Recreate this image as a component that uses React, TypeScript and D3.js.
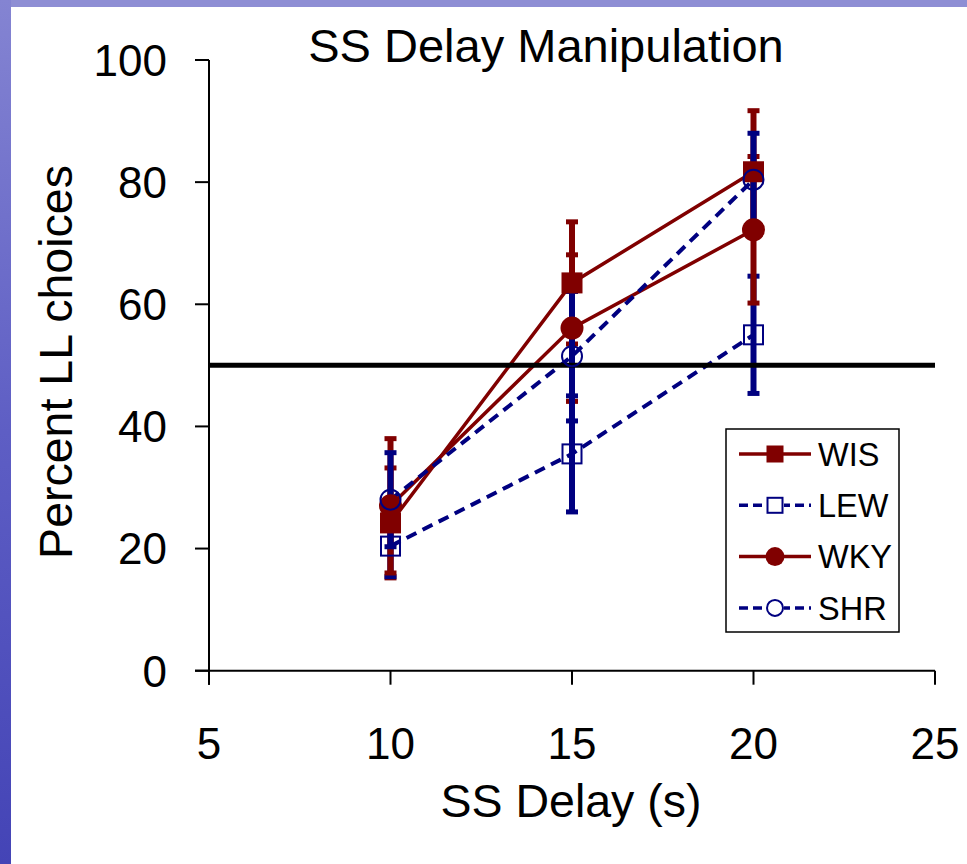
import React from "react";
import * as d3 from "d3";

const delays = [10, 15, 20];
const xTicks = [5, 10, 15, 20, 25];
const yTicks = [0, 20, 40, 60, 80, 100];
const seriesNames = ["WIS", "LEW", "WKY", "SHR"];
const wisMean = [24.2, 63.5, 81.7];
const wisErr = [9, 10, 10];
const lewMean = [20.4, 35.5, 55.0];
const lewErr = [5, 9.5, 9.6];
const wkyMean = [27.0, 56.1, 72.2];
const wkyErr = [11, 12, 12];
const shrMean = [28.0, 51.5, 80.4];
const shrErr = [7.7, 10.6, 7.6];
const refLine = 50;

const RED = "#800000";
const NAVY = "#000080";
const FONT = "'Liberation Sans', Arial, sans-serif";

type S = { name: string; mean: number[]; err: number[]; color: string; dashed: boolean; marker: string };
const series: S[] = [
  { name: seriesNames[0], mean: wisMean, err: wisErr, color: RED, dashed: false, marker: "fsquare" },
  { name: seriesNames[1], mean: lewMean, err: lewErr, color: NAVY, dashed: true, marker: "osquare" },
  { name: seriesNames[2], mean: wkyMean, err: wkyErr, color: RED, dashed: false, marker: "fcircle" },
  { name: seriesNames[3], mean: shrMean, err: shrErr, color: NAVY, dashed: true, marker: "ocircle" },
];

function Marker({ type, x, y, color, size }: { type: string; x: number; y: number; color: string; size: number }) {
  const h = size / 2;
  if (type === "fsquare") return <rect x={x - h} y={y - h} width={size} height={size} fill={color} />;
  if (type === "osquare")
    return <rect x={x - h + 1} y={y - h + 1} width={size - 2} height={size - 2} fill="none" stroke={color} strokeWidth={2} />;
  if (type === "fcircle") return <circle cx={x} cy={y} r={h + 1} fill={color} />;
  return <circle cx={x} cy={y} r={h - 0.5} fill="none" stroke={color} strokeWidth={2} />;
}

export default function App() {
  const W = 967, H = 864;
  const x = d3.scaleLinear().domain([5, 25]).range([209, 935]);
  const y = d3.scaleLinear().domain([0, 100]).range([670.7, 60]);
  const line = d3.line<number>().x((_, i) => x(delays[i])).y((d) => y(d));

  return (
    <div style={{ position: "fixed", left: 0, top: 0 }}>
      <svg width={W} height={H} style={{ display: "block" }}>
        <defs>
          <linearGradient id="lg" x1="0" y1="0" x2="0" y2="1">
            <stop offset="0" stopColor="#8484d2" />
            <stop offset="0.5" stopColor="#5e5ec4" />
            <stop offset="1" stopColor="#4444b6" />
          </linearGradient>
        </defs>
        <rect x={0} y={0} width={W} height={H} fill="#ffffff" />
        <rect x={0} y={0} width={W} height={7} fill="#8e8ed4" />
        <rect x={0} y={0} width={11} height={H} fill="url(#lg)" />

        {/* title */}
        <text x={546} y={62} textAnchor="middle" fontFamily={FONT} fontSize={47} fill="#000">
          SS Delay  Manipulation
        </text>

        {/* axes */}
        <line x1={x(5)} x2={x(5)} y1={y(100)} y2={y(0) + 14} stroke="#000" strokeWidth={2} />
        <line x1={x(5) - 14} x2={x(25)} y1={y(0)} y2={y(0)} stroke="#000" strokeWidth={2} />
        {yTicks.map((t) => (
          <g key={"y" + t}>
            <line x1={x(5) - 14} x2={x(5)} y1={y(t)} y2={y(t)} stroke="#000" strokeWidth={2} />
            <text x={167} y={y(t)} dy="0.36em" textAnchor="end" fontFamily={FONT} fontSize={44} fill="#000">
              {t}
            </text>
          </g>
        ))}
        {xTicks.map((t) => (
          <g key={"x" + t}>
            <line x1={x(t)} x2={x(t)} y1={y(0)} y2={y(0) + 14} stroke="#000" strokeWidth={2} />
            <text x={x(t)} y={759} textAnchor="middle" fontFamily={FONT} fontSize={44} fill="#000">
              {t}
            </text>
          </g>
        ))}
        <text x={571} y={817} textAnchor="middle" fontFamily={FONT} fontSize={46.5} fill="#000">
          SS Delay (s)
        </text>
        <text
          transform={`translate(72,362) rotate(-90)`}
          textAnchor="middle"
          fontFamily={FONT}
          fontSize={46.5}
          fill="#000"
        >
          Percent LL choices
        </text>

        {/* error bars */}
        {series.map((s) => (
          <g key={"e" + s.name}>
            {delays.map((d, i) => {
              const cx = x(d);
              const y1 = y(s.mean[i] + s.err[i]);
              const y2 = y(s.mean[i] - s.err[i]);
              return (
                <g key={i}>
                  <line x1={cx} x2={cx} y1={y1} y2={y2} stroke={s.color} strokeWidth={6} />
                  <line x1={cx - 6} x2={cx + 6} y1={y1} y2={y1} stroke={s.color} strokeWidth={5} />
                  <line x1={cx - 6} x2={cx + 6} y1={y2} y2={y2} stroke={s.color} strokeWidth={5} />
                </g>
              );
            })}
          </g>
        ))}

        {/* lines */}
        {series.map((s) => (
          <path
            key={"l" + s.name}
            d={line(s.mean) || ""}
            fill="none"
            stroke={s.color}
            strokeWidth={s.dashed ? 4 : 3.5}
            strokeDasharray={s.dashed ? "11,7" : undefined}
          />
        ))}

        {/* reference line */}
        <line x1={x(5)} x2={x(25)} y1={y(refLine)} y2={y(refLine)} stroke="#000" strokeWidth={5} />

        {/* markers */}
        {series.map((s) => (
          <g key={"m" + s.name}>
            {delays.map((d, i) => (
              <Marker key={i} type={s.marker} x={x(d)} y={y(s.mean[i])} color={s.color} size={21} />
            ))}
          </g>
        ))}

        {/* legend */}
        <rect x={726} y={429} width={173} height={203} fill="#fff" stroke="#000" strokeWidth={1.5} />
        {series.map((s, i) => {
          const ly = 454 + i * 51.3;
          return (
            <g key={"lg" + s.name}>
              <line
                x1={739}
                x2={811}
                y1={ly}
                y2={ly}
                stroke={s.color}
                strokeWidth={3.5}
                strokeDasharray={s.dashed ? "9,5" : undefined}
              />
              {s.marker.startsWith("o") && <rect x={766} y={ly - 9} width={18} height={18} fill="#fff" />}
              <Marker type={s.marker} x={775} y={ly} color={s.color} size={17} />
              <text x={818} y={ly} dy="0.36em" fontFamily={FONT} fontSize={32.5} fill="#000">
                {s.name}
              </text>
            </g>
          );
        })}
      </svg>
    </div>
  );
}
